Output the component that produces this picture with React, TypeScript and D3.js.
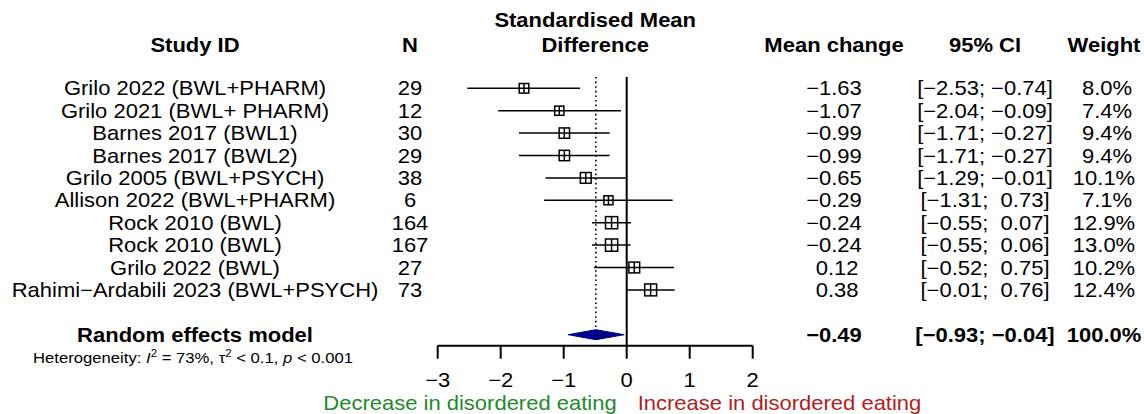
import React from "react";
import * as d3 from "d3";

const studies = [
  "Grilo 2022 (BWL+PHARM)",
  "Grilo 2021 (BWL+ PHARM)",
  "Barnes 2017 (BWL1)",
  "Barnes 2017 (BWL2)",
  "Grilo 2005 (BWL+PSYCH)",
  "Allison 2022 (BWL+PHARM)",
  "Rock 2010 (BWL)",
  "Rock 2010 (BWL)",
  "Grilo 2022 (BWL)",
  "Rahimi\u2212Ardabili 2023 (BWL+PSYCH)",
];
const sampleN = [29, 12, 30, 29, 38, 6, 164, 167, 27, 73];
const smd = [-1.63, -1.07, -0.99, -0.99, -0.65, -0.29, -0.24, -0.24, 0.12, 0.38];
const lower = [-2.53, -2.04, -1.71, -1.71, -1.29, -1.31, -0.55, -0.55, -0.52, -0.01];
const upper = [-0.74, -0.09, -0.27, -0.27, -0.01, 0.73, 0.07, 0.06, 0.75, 0.76];
const weights = [8.0, 7.4, 9.4, 9.4, 10.1, 7.1, 12.9, 13.0, 10.2, 12.4];
const pooledEst = -0.49;
const pooledLower = -0.93;
const pooledUpper = -0.04;
const pooledWeight = 100.0;
const xTicks = [-3, -2, -1, 0, 1, 2];

const FONT = "'Liberation Sans', Arial, Helvetica, sans-serif";
const FS = 20;
const SX = 1.1;

const fmt = (v: number) => (v < 0 ? "\u2212" : "") + Math.abs(v).toFixed(2);
const fmtPad = (v: number) => (v < 0 ? "\u2212" : " ") + Math.abs(v).toFixed(2);
const fmtCI = (lo: number, hi: number) => `[${fmt(lo)}; ${hi < 0 ? "" : " "}${fmt(hi)}]`;
const fmtW = (w: number) => (w < 10 ? " " : "") + w.toFixed(1) + "%";

export default function App() {
  const W = 1144;
  const H = 414;
  const x = d3.scaleLinear().domain([-3, 2]).range([437.7, 752.7]);
  const row = d3.scaleLinear().domain([0, 1]).range([88.3, 110.7]);
  const sqSize = d3.scaleSqrt().domain([0, 13]).range([0, 12.2]);
  const axisY = 345.7;
  const colStudy = 195;
  const colN = 410;
  const colMean = 834;
  const colCI = 985;
  const colW = 1104;
  const summaryY = row(11);

  const txt = (props: any, content: any) => {
    const { x: tx, y: ty, ...rest } = props;
    return (
      <text
        transform={`translate(${tx},${ty}) scale(${SX},1)`}
        fontFamily={FONT}
        fontSize={FS}
        style={{ whiteSpace: "pre" }}
        {...rest}
      >
        {content}
      </text>
    );
  };

  return (
    <svg width={W} height={H} style={{ position: "absolute", left: 0, top: 0, background: "#fff" }}>
      {/* headers */}
      {txt({ x: colStudy, y: 52, textAnchor: "middle", fontWeight: "bold" }, "Study ID")}
      {txt({ x: colN, y: 52, textAnchor: "middle", fontWeight: "bold" }, "N")}
      {txt({ x: x(-0.5), y: 27, textAnchor: "middle", fontWeight: "bold" }, "Standardised Mean")}
      {txt({ x: x(-0.5), y: 52, textAnchor: "middle", fontWeight: "bold" }, "Difference")}
      {txt({ x: colMean, y: 52, textAnchor: "middle", fontWeight: "bold" }, "Mean change")}
      {txt({ x: colCI, y: 52, textAnchor: "middle", fontWeight: "bold" }, "95% CI")}
      {txt({ x: colW, y: 52, textAnchor: "middle", fontWeight: "bold" }, "Weight")}

      {/* reference lines */}
      <line x1={x(0)} x2={x(0)} y1={77} y2={axisY} stroke="#000" strokeWidth={2} />
      <line
        x1={x(pooledEst)}
        x2={x(pooledEst)}
        y1={77}
        y2={330}
        stroke="#000"
        strokeWidth={1.6}
        strokeDasharray="1.6,3"
      />

      {/* studies */}
      {studies.map((s, i) => {
        const y = row(i);
        const sz = sqSize(weights[i]);
        const cx = x(smd[i]);
        return (
          <g key={i}>
            {txt({ x: colStudy, y: y + 7, textAnchor: "middle" }, s)}
            {txt({ x: colN, y: y + 7, textAnchor: "middle" }, String(sampleN[i]))}
            {txt({ x: colMean, y: y + 7, textAnchor: "middle" }, fmtPad(smd[i]))}
            {txt({ x: colCI, y: y + 7, textAnchor: "middle" }, fmtCI(lower[i], upper[i]))}
            {txt({ x: colW, y: y + 7, textAnchor: "middle" }, fmtW(weights[i]))}
            <rect
              x={cx - sz / 2}
              y={y - sz / 2}
              width={sz}
              height={sz}
              fill="#fff"
              stroke="#000"
              strokeWidth={1.5}
            />
            <line x1={x(lower[i])} x2={x(upper[i])} y1={y} y2={y} stroke="#000" strokeWidth={1.5} />
            <line x1={cx} x2={cx} y1={y - sz / 2} y2={y + sz / 2} stroke="#000" strokeWidth={1.5} />
          </g>
        );
      })}

      {/* pooled */}
      {txt({ x: colStudy, y: summaryY + 7.5, textAnchor: "middle", fontWeight: "bold" }, "Random effects model")}
      {txt({ x: colMean, y: summaryY + 7.5, textAnchor: "middle", fontWeight: "bold" }, fmtPad(pooledEst))}
      {txt({ x: colCI, y: summaryY + 7.5, textAnchor: "middle", fontWeight: "bold" }, fmtCI(pooledLower, pooledUpper))}
      {txt({ x: colW, y: summaryY + 7.5, textAnchor: "middle", fontWeight: "bold" }, pooledWeight.toFixed(1) + "%")}
      <polygon
        points={[
          [x(pooledLower), summaryY],
          [x(pooledEst), summaryY - 5],
          [x(pooledUpper), summaryY],
          [x(pooledEst), summaryY + 5],
        ]
          .map((p) => p.join(","))
          .join(" ")}
        fill="#00008b"
        stroke="#00008b"
        strokeWidth={1}
      />
      <text
        transform="translate(193,363) scale(1.15,1)"
        textAnchor="middle"
        fontFamily={FONT}
        fontSize={14.5}
        style={{ whiteSpace: "pre" }}
      >
        {"Heterogeneity: "}
        <tspan fontStyle="italic">I</tspan>
        <tspan fontSize={10} dy={-6}>2</tspan>
        <tspan dy={6}>{" = 73%, \u03c4"}</tspan>
        <tspan fontSize={10} dy={-6}>2</tspan>
        <tspan dy={6}>{" < 0.1, "}</tspan>
        <tspan fontStyle="italic">p</tspan>
        {" < 0.001"}
      </text>

      {/* axis */}
      <line x1={x(-3)} x2={x(2)} y1={axisY} y2={axisY} stroke="#000" strokeWidth={2} />
      {xTicks.map((t) => (
        <g key={t}>
          <line x1={x(t)} x2={x(t)} y1={axisY} y2={axisY + 13} stroke="#000" strokeWidth={2} />
          {txt({ x: x(t), y: 387, textAnchor: "middle" }, t < 0 ? "\u2212" + Math.abs(t) : String(t))}
        </g>
      ))}
      {txt({ x: x(0) - 10, y: 409.5, textAnchor: "end", fill: "#1e8a2a" }, "Decrease in disordered eating")}
      {txt({ x: x(0) + 11, y: 409.5, textAnchor: "start", fill: "#b01e22" }, "Increase in disordered eating")}
    </svg>
  );
}
